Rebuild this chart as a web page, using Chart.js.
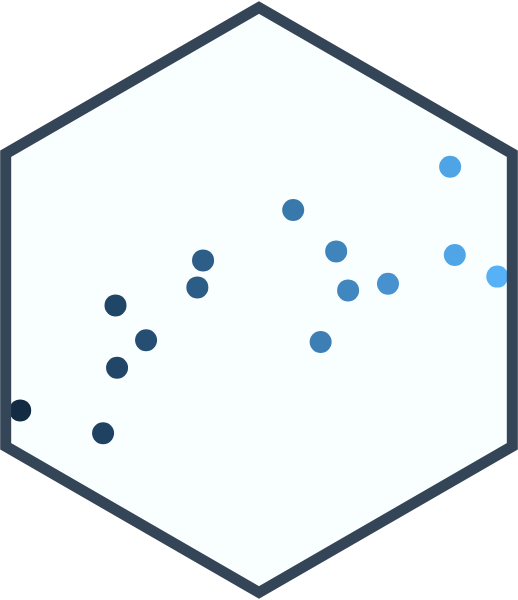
<!DOCTYPE html>
<html>
<head>
<meta charset="utf-8">
<script src="https://cdn.jsdelivr.net/npm/chart.js@4"></script>
<style>
  html, body { margin: 0; padding: 0; background: #ffffff; }
  #wrap { width: 518px; height: 600px; }
</style>
</head>
<body>
<div id="wrap"><canvas id="myChart" width="518" height="600"></canvas></div>
<script>
// point positions (x and y on a 0..100 scale)
const xValues = [3.9, 19.9, 22.3, 22.6, 28.2, 38.1, 39.2, 56.6, 61.9, 64.9, 67.2, 74.9, 86.9, 87.8, 96.0];
const yValues = [31.6, 27.8, 49.1, 38.7, 43.3, 52.1, 56.6, 65.0, 43.0, 58.1, 51.6, 52.7, 72.2, 57.5, 53.9];

const lowColor = [19, 43, 67];    // #132B43
const highColor = [86, 177, 247]; // #56B1F7

const xMin = Math.min(...xValues);
const xMax = Math.max(...xValues);

function gradientColor(ctx) {
  const v = ctx.raw ? ctx.raw.x : xMin;
  const t = (v - xMin) / (xMax - xMin);
  const c = lowColor.map((lo, i) => Math.round(lo + (highColor[i] - lo) * t));
  return `rgb(${c[0]}, ${c[1]}, ${c[2]})`;
}

function hexPath(ctx, area) {
  const cx = (area.left + area.right) / 2;
  const cy = (area.top + area.bottom) / 2;
  const r = (area.bottom - area.top) / 2 - 7.5;
  ctx.beginPath();
  for (let i = 0; i < 6; i++) {
    const a = Math.PI / 2 + i * Math.PI / 3;
    const px = cx + r * Math.cos(a);
    const py = cy - r * Math.sin(a);
    if (i === 0) ctx.moveTo(px, py); else ctx.lineTo(px, py);
  }
  ctx.closePath();
}

const hexSticker = {
  id: 'hexSticker',
  beforeDatasetsDraw(chart) {
    const ctx = chart.ctx;
    ctx.save();
    hexPath(ctx, chart.chartArea);
    ctx.fillStyle = '#f9feff';
    ctx.fill();
    ctx.clip();
  },
  afterDatasetsDraw(chart) {
    const ctx = chart.ctx;
    ctx.restore();
    ctx.save();
    hexPath(ctx, chart.chartArea);
    ctx.lineWidth = 11;
    ctx.lineJoin = 'miter';
    ctx.strokeStyle = '#344557';
    ctx.stroke();
    ctx.restore();
  }
};

const data = {
  datasets: [{
    data: xValues.map((x, i) => ({ x: x, y: yValues[i] })),
    backgroundColor: gradientColor,
    borderWidth: 0,
    pointRadius: 11,
    pointHoverRadius: 11,
    clip: false
  }]
};

const config = {
  type: 'scatter',
  data: data,
  options: {
    responsive: false,
    animation: false,
    devicePixelRatio: 1,
    layout: { padding: 0, autoPadding: false },
    plugins: {
      legend: false,
      tooltip: false
    },
    scales: {
      x: { type: 'linear', min: 0, max: 100, display: false },
      y: { type: 'linear', min: 0, max: 100, display: false }
    }
  },
  plugins: [hexSticker]
};

new Chart(document.getElementById('myChart'), config);
</script>
</body>
</html>
